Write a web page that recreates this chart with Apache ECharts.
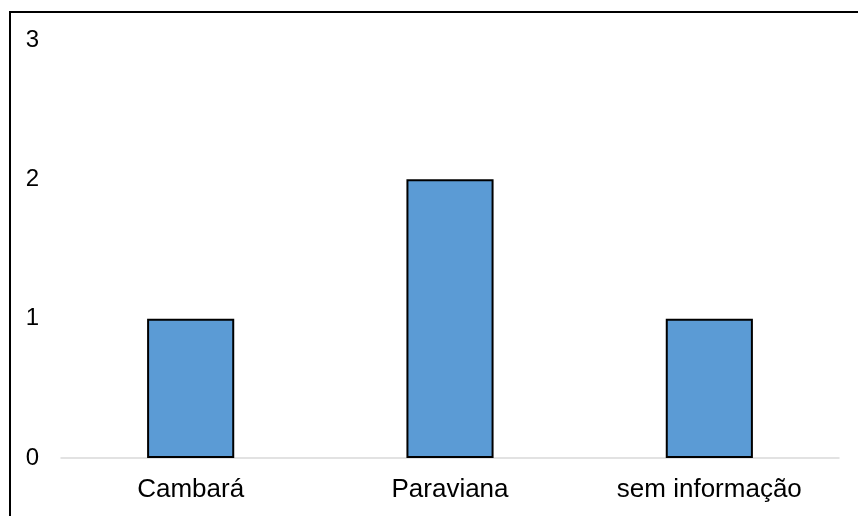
<!DOCTYPE html>
<html>
<head>
<meta charset="utf-8">
<script src="https://cdn.jsdelivr.net/npm/echarts@6/dist/echarts.min.js"></script>
<style>
  html, body { margin: 0; padding: 0; background: #fff; }
  #chart { width: 858px; height: 516px; }
</style>
</head>
<body>
<div id="chart"></div>
<script>
// Origem das amostras
const categories = ['Cambará', 'Paraviana', 'sem informação'];
const counts = [1, 2, 1];
const yTicks = [0, 1, 2, 3];

const chart = echarts.init(document.getElementById('chart'), null, { renderer: 'canvas' });

chart.setOption({
  animation: false,
  backgroundColor: '#ffffff',
  textStyle: { fontFamily: 'Liberation Sans, Arial, sans-serif' },
  graphic: [{
    type: 'rect',
    shape: { x: 10, y: 12, width: 900, height: 600 },
    style: { fill: 'none', stroke: '#000000', lineWidth: 2 },
    silent: true
  }],
  grid: { left: 61, right: 19, top: 40, bottom: 58, containLabel: false },
  xAxis: {
    type: 'category',
    data: categories,
    axisLine: { show: true, lineStyle: { color: '#d9d9d9', width: 1.5 } },
    axisTick: { show: false },
    axisLabel: { color: '#000000', fontSize: 26, margin: 19 },
    splitLine: { show: false }
  },
  yAxis: {
    type: 'value',
    min: yTicks[0],
    max: yTicks[yTicks.length - 1],
    interval: 1,
    axisLine: { show: false },
    axisTick: { show: false },
    splitLine: { show: false },
    axisLabel: { color: '#000000', fontSize: 24, margin: 22 }
  },
  series: [{
    type: 'bar',
    data: counts,
    barWidth: '33.6%',
    itemStyle: { color: '#5b9bd5', borderColor: '#000000', borderWidth: 2 }
  }]
});
</script>
</body>
</html>
